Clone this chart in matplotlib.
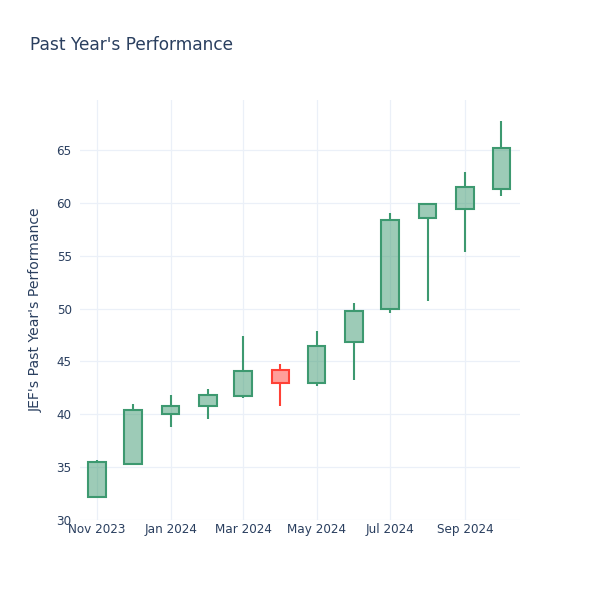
import matplotlib
matplotlib.use("Agg")
import matplotlib.pyplot as plt
import matplotlib.dates as mdates
import numpy as np
import datetime as dt

months = ["2023-11-01", "2023-12-01", "2024-01-01", "2024-02-01", "2024-03-01", "2024-04-01",
          "2024-05-01", "2024-06-01", "2024-07-01", "2024-08-01", "2024-09-01", "2024-10-01"]
opens  = [32.2, 35.3, 40.06, 40.8, 41.7, 44.15, 43.0, 46.8, 50.0, 58.6, 59.45, 61.3]
closes = [35.5, 40.4, 40.8, 41.85, 44.1, 43.0, 46.5, 49.8, 58.4, 59.9, 61.5, 65.2]
highs  = [35.65, 41.0, 41.8, 42.4, 47.4, 44.8, 47.9, 50.5, 59.0, 59.9, 62.9, 67.7]
lows   = [32.05, 35.3, 38.8, 39.6, 41.5, 40.8, 42.7, 43.2, 49.6, 50.7, 55.35, 60.65]
tick_dates = ["2023-11-01", "2024-01-01", "2024-03-01", "2024-05-01", "2024-07-01", "2024-09-01"]
tick_labels = ["Nov 2023", "Jan 2024", "Mar 2024", "May 2024", "Jul 2024", "Sep 2024"]

inc_color = "#3D9970"
dec_color = "#FF4136"
text_color = "#2a3f5f"
grid_color = "#EBF0F8"

fig = plt.figure(figsize=(6, 6), dpi=100)
ax = fig.add_axes([80/600, 80/600, 440/600, 420/600])

x = mdates.date2num([dt.datetime.fromisoformat(m) for m in months])
width = 14.5
for xi, o, c, h, l in zip(x, opens, closes, highs, lows):
    col = inc_color if c >= o else dec_color
    lo_b, hi_b = min(o, c), max(o, c)
    if l < lo_b:
        ax.vlines(xi, l, lo_b, color=col, linewidth=1.5, zorder=2)
    if h > hi_b:
        ax.vlines(xi, hi_b, h, color=col, linewidth=1.5, zorder=2)
    ax.bar(xi, hi_b - lo_b, bottom=lo_b, width=width, facecolor=col, alpha=0.5,
           edgecolor="none", zorder=3)
    ax.bar(xi, hi_b - lo_b, bottom=lo_b, width=width, facecolor="none",
           edgecolor=col, linewidth=1.5, zorder=4)

xmin = mdates.date2num(dt.datetime(2023, 10, 18))
xmax = mdates.date2num(dt.datetime(2024, 10, 16, 12))
ax.set_xlim(xmin, xmax)
ax.set_ylim(30, 69.73)

ax.set_xticks(mdates.date2num([dt.datetime.fromisoformat(t) for t in tick_dates]))
ax.set_xticklabels(tick_labels)
ax.set_yticks(np.arange(30, 70, 5))
ax.tick_params(axis="both", length=0, labelsize=8.64, colors=text_color)
ax.tick_params(axis="x", pad=2)
ax.tick_params(axis="y", pad=6)
ax.grid(True, color=grid_color, linewidth=0.9, zorder=0)
ax.set_axisbelow(True)
for s in ax.spines.values():
    s.set_visible(False)

ax.set_ylabel("JEF's Past Year's Performance", fontsize=10.08, color=text_color, labelpad=10)
fig.text(30/600, 1 - 45/600, "Past Year's Performance", fontsize=12.24, color=text_color,
         va="center", ha="left")

fig.savefig("out.png", dpi=100, facecolor="white")
